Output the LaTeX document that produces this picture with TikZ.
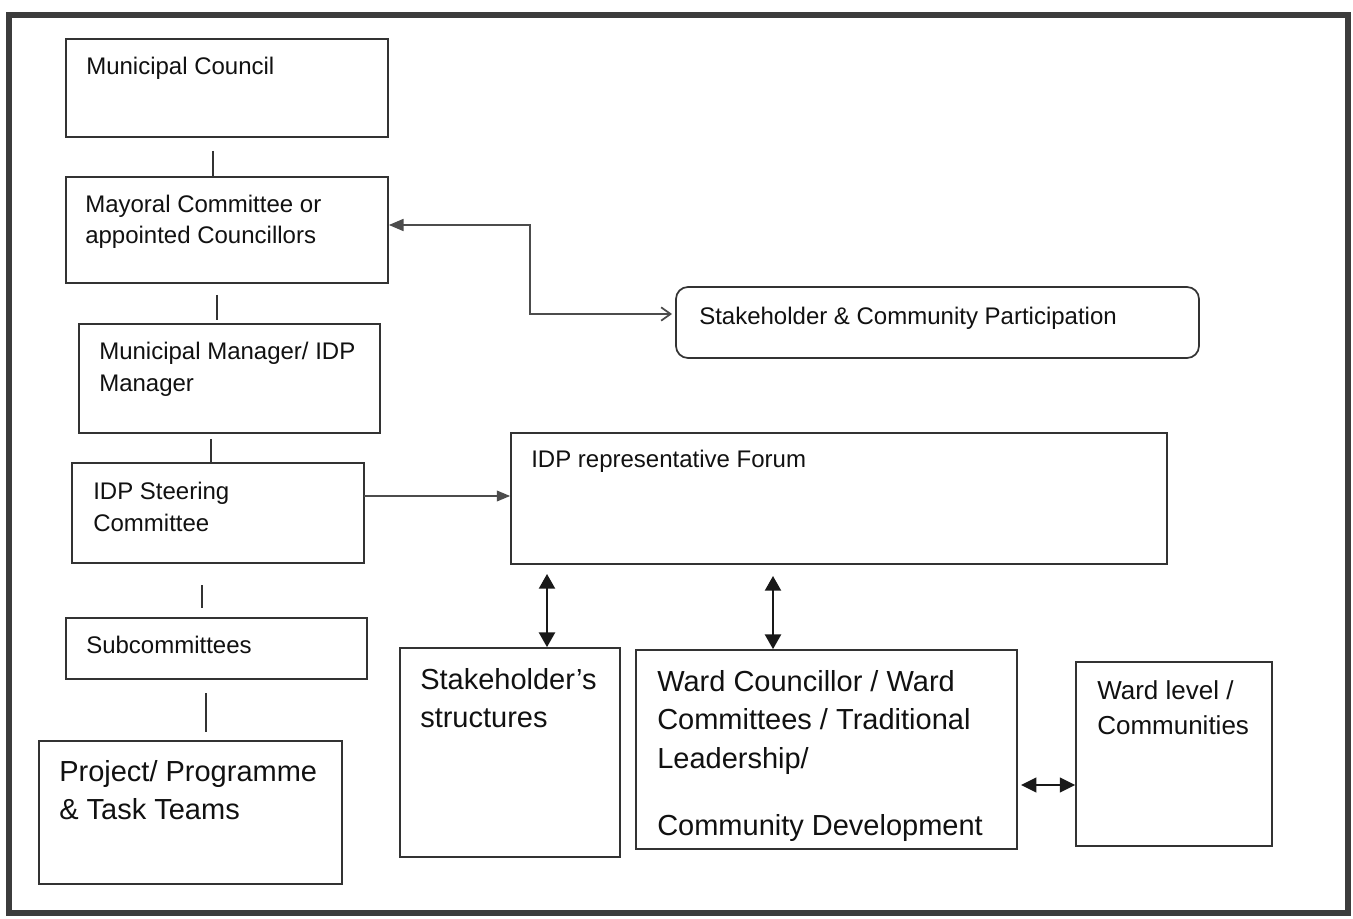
\documentclass[tikz,border=0pt]{standalone}
\usepackage{fontspec}
\setmainfont{Liberation Sans}
\usetikzlibrary{arrows.meta,fit,calc}
\definecolor{ln}{HTML}{333333}
\definecolor{gl}{HTML}{4C4C4C}
\definecolor{fr}{HTML}{3C3C3C}
\definecolor{tx}{HTML}{111111}
\begin{document}
\begin{tikzpicture}[x=0.75pt,y=-0.75pt,
  box/.style={draw=ln, line width=1.3pt, inner sep=0pt},
  rbox/.style={box, rounded corners=9pt},
  lbl/.style={inner sep=0pt, align=left, text=tx},
  sm/.style={lbl, font=\fontsize{18pt}{23.5pt}\selectfont},
  bg/.style={lbl, font=\fontsize{21.75pt}{28.5pt}\selectfont},
  conn/.style={draw=ln, line width=1.1pt},
  garr/.style={draw=gl, line width=1.3pt},
  darr/.style={draw=black!90, line width=1.6pt, {Triangle[length=11pt,width=12pt]}-{Triangle[length=11pt,width=12pt]}},
  harr/.style={draw=black!90, line width=1.6pt, {Triangle[length=11.5pt,width=11pt]}-{Triangle[length=11.5pt,width=11pt]}}
]
\useasboundingbox (0,0) rectangle (1353,919);
\fill[white] (0,0) rectangle (1353,919);
\draw[fr, line width=4pt] (9,15) rectangle (1348,913);

% boxes
\node[box, fit={(66,39)(388,137)}] (council) {};
\node[box, fit={(66,177)(388,283)}] (mayor) {};
\node[box, fit={(79,324)(380,433)}] (manager) {};
\node[box, fit={(72,463)(364,563)}] (steer) {};
\node[box, fit={(66,618)(367,679)}] (subc) {};
\node[box, fit={(39,741)(342,884)}] (proj) {};
\node[rbox, fit={(676,287)(1199,358)}] (scp) {};
\node[box, fit={(511,433)(1167,564)}] (forum) {};
\node[box, fit={(400,648)(620,857)}] (stk) {};
\node[box, fit={(636,650)(1017,849)}] (ward) {};
\node[box, fit={(1076,662)(1272,846)}] (wl) {};

% texts
\node[sm, anchor=base west] (councilt) at (86,75) {Municipal Council};
\node[sm, anchor=north west, font=\fontsize{18pt}{23pt}\selectfont] (mayort) at (85,195) {Mayoral Committee or\\appointed Councillors};
\node[sm, anchor=north west, font=\fontsize{18pt}{24pt}\selectfont] (managert) at (99,342) {Municipal Manager/ IDP\\Manager};
\node[sm, anchor=north west, font=\fontsize{18pt}{24pt}\selectfont] (steert) at (93,482) {IDP Steering\\Committee};
\node[sm, anchor=base west] (subct) at (86,653) {Subcommittees};
\node[bg, anchor=north west] (projt) at (59,760) {Project/ Programme\\\& Task Teams};
\node[sm, anchor=base west] (scpt) at (699,325) {Stakeholder \& Community Participation};
\node[sm, anchor=base west] (forumt) at (531,468) {IDP representative Forum};
\node[bg, anchor=north west] (stkt) at (420,668) {Stakeholder’s\\structures};
\node[bg, anchor=north west, font=\fontsize{21.75pt}{28.9pt}\selectfont] (wardt) at (657,670) {Ward Councillor / Ward\\Committees / Traditional\\Leadership/\\[21.4pt]Community Development};
\node[lbl, anchor=north west, font=\fontsize{19.5pt}{26.25pt}\selectfont] (wlt) at (1097,680) {Ward level /\\Communities};

% plain connectors
\coordinate (c1) at (213,151);
\draw[conn] (c1) -- (c1 |- mayor.north);
\coordinate (c2a) at (217,295);
\coordinate (c2b) at (217,320);
\draw[conn] (c2a) -- (c2b);
\coordinate (c3) at (211,439);
\draw[conn] (c3) -- (c3 |- steer.north);
\coordinate (c4a) at (202,585);
\coordinate (c4b) at (202,608);
\draw[conn] (c4a) -- (c4b);
\coordinate (c5a) at (206,693);
\coordinate (c5b) at (206,732);
\draw[conn] (c5a) -- (c5b);

% arrows
\coordinate (a1) at (530,225);
\coordinate (a2) at (672,314);
\draw[garr, {Triangle[length=11pt,width=9pt]}-{Straight Barb[length=7pt,width=10pt,line width=1.3pt]}] (mayor.east |- a1) -- (a1) |- (a2);
\coordinate (s1) at (364,496);
\draw[garr, -{Triangle[length=10pt,width=8pt]}] (s1) -- (s1 -| forum.west);
\coordinate (d1) at (547,574);
\draw[darr] (d1) -- (d1 |- stk.north);
\coordinate (d2) at (773,576);
\draw[darr] (d2) -- (d2 |- ward.north);
\coordinate (h1) at (1021,785);
\draw[harr] (h1) -- (h1 -| wl.west);
\end{tikzpicture}
\end{document}
